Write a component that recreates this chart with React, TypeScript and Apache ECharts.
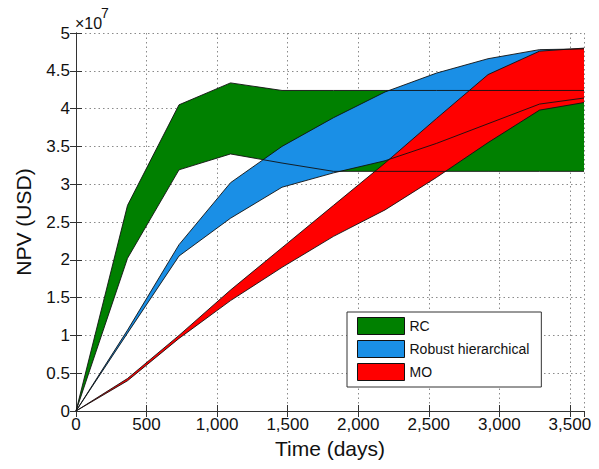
import { useEffect, useRef } from "react";
import * as echarts from "echarts";

// Sample times (days) shared by every boundary curve
const days = [0, 365, 730, 1095, 1460, 1825, 2190, 2555, 2920, 3285, 3600];

// NPV envelopes, in units of 1e7 USD
const rcUpper = [0, 2.72, 4.05, 4.34, 4.24, 4.24, 4.24, 4.24, 4.24, 4.24, 4.24];
const rcLower = [0, 2.02, 3.19, 3.4, 3.28, 3.17, 3.17, 3.17, 3.17, 3.17, 3.17];
const robustUpper = [0, 1.07, 2.2, 3.02, 3.5, 3.88, 4.22, 4.47, 4.66, 4.78, 4.79];
const robustLower = [0, 1.03, 2.05, 2.55, 2.96, 3.15, 3.31, 3.54, 3.8, 4.06, 4.14];
const moUpper = [0, 0.43, 1.0, 1.6, 2.16, 2.72, 3.28, 3.87, 4.45, 4.76, 4.8];
const moLower = [0, 0.4, 0.96, 1.46, 1.9, 2.31, 2.66, 3.09, 3.55, 3.98, 4.08];

const bandNames = ["RC", "Robust hierarchical", "MO"];
const bandColors = ["#008000", "#1a8fe6", "#ff0000"];

// Axis ranges and tick steps
const xRange = [0, 3600];
const xStep = 500;
const yRange = [0, 5];
const yStep = 0.5;

const FONT = "'Liberation Sans', Arial, Helvetica, sans-serif";

function bandSeries(name: string, color: string, upper: number[], lower: number[]) {
  return {
    name,
    type: "custom",
    coordinateSystem: "cartesian2d",
    silent: true,
    z: 2,
    itemStyle: { color },
    data: [[0, 0]],
    renderItem: (_params: any, api: any) => {
      const points: number[][] = [];
      days.forEach((d, i) => points.push(api.coord([d, upper[i]])));
      for (let i = days.length - 1; i >= 0; i--) points.push(api.coord([days[i], lower[i]]));
      return { type: "polygon", shape: { points }, style: { fill: color, stroke: null } };
    },
  };
}

function edgeSeries(id: string, values: number[]) {
  return {
    name: id,
    type: "line",
    silent: true,
    z: 5,
    symbol: "none",
    data: days.map((d, i) => [d, values[i]]),
    lineStyle: { color: "#111", width: 0.9 },
  };
}

export default function App() {
  const ref = useRef<HTMLDivElement>(null);

  useEffect(() => {
    if (!ref.current) return;
    const chart = echarts.init(ref.current, undefined, { renderer: "svg" });

    const gridLine = { show: true, lineStyle: { color: "#8a8a8a", width: 1, type: [1.5, 3] } };
    const frame = { show: true, lineStyle: { color: "#333", width: 1 } };
    const ticksIn = { show: true, inside: true, length: 6, lineStyle: { color: "#333", width: 1 } };

    chart.setOption({
      animation: false,
      backgroundColor: "#fff",
      textStyle: { fontFamily: FONT },
      grid: { left: 76, right: 15, top: 33, bottom: 58, containLabel: false },
      xAxis: [
        {
          type: "value",
          min: xRange[0],
          max: xRange[1],
          interval: xStep,
          position: "bottom",
          name: "Time (days)",
          nameLocation: "middle",
          nameGap: 23,
          nameTextStyle: { fontSize: 21, color: "#111", fontFamily: FONT },
          axisLine: frame,
          axisTick: ticksIn,
          splitLine: gridLine,
          axisLabel: {
            fontSize: 17,
            color: "#111",
            margin: 5,
            showMaxLabel: false,
            fontFamily: FONT,
            formatter: (v: number) => (v === xRange[1] ? "" : v.toLocaleString("en-US")),
          },
        },
        {
          type: "value",
          min: xRange[0],
          max: xRange[1],
          interval: xStep,
          position: "top",
          axisLine: frame,
          axisTick: ticksIn,
          splitLine: { show: false },
          axisLabel: { show: false },
        },
      ],
      yAxis: [
        {
          type: "value",
          min: yRange[0],
          max: yRange[1],
          interval: yStep,
          position: "left",
          name: "NPV (USD)",
          nameLocation: "middle",
          nameGap: 42,
          nameTextStyle: { fontSize: 21, color: "#111", fontFamily: FONT },
          axisLine: frame,
          axisTick: ticksIn,
          splitLine: gridLine,
          axisLabel: { fontSize: 17, color: "#111", margin: 6, fontFamily: FONT },
        },
        {
          type: "value",
          min: yRange[0],
          max: yRange[1],
          interval: yStep,
          position: "right",
          axisLine: frame,
          axisTick: ticksIn,
          splitLine: { show: false },
          axisLabel: { show: false },
        },
      ],
      legend: {
        data: bandNames,
        orient: "vertical",
        left: 347,
        top: 312,
        icon: "rect",
        itemWidth: 47,
        itemHeight: 17,
        itemGap: 5,
        padding: [5, 12, 6, 10],
        backgroundColor: "#fff",
        borderColor: "#333",
        borderWidth: 1,
        borderRadius: 0,
        selectedMode: false,
        itemStyle: { borderColor: "#111", borderWidth: 1 },
        textStyle: { fontSize: 14, color: "#111", fontFamily: FONT },
      },
      graphic: [
        {
          type: "text",
          left: 75,
          top: 15,
          style: { text: "×10", font: "16px 'Liberation Sans', Arial, sans-serif", fill: "#111" },
        },
        {
          type: "text",
          left: 101,
          top: 6,
          style: { text: "7", font: "14px 'Liberation Sans', Arial, sans-serif", fill: "#111" },
        },
      ],
      series: [
        bandSeries(bandNames[0], bandColors[0], rcUpper, rcLower),
        bandSeries(bandNames[1], bandColors[1], robustUpper, robustLower),
        bandSeries(bandNames[2], bandColors[2], moUpper, moLower),
        edgeSeries("rc-upper", rcUpper),
        edgeSeries("rc-lower", rcLower),
        edgeSeries("robust-upper", robustUpper),
        edgeSeries("robust-lower", robustLower),
        edgeSeries("mo-upper", moUpper),
        edgeSeries("mo-lower", moLower),
      ],
    });

    return () => chart.dispose();
  }, []);

  return (
    <div
      ref={ref}
      style={{ position: "fixed", left: 0, top: 0, width: 599, height: 469, background: "#fff" }}
    />
  );
}
